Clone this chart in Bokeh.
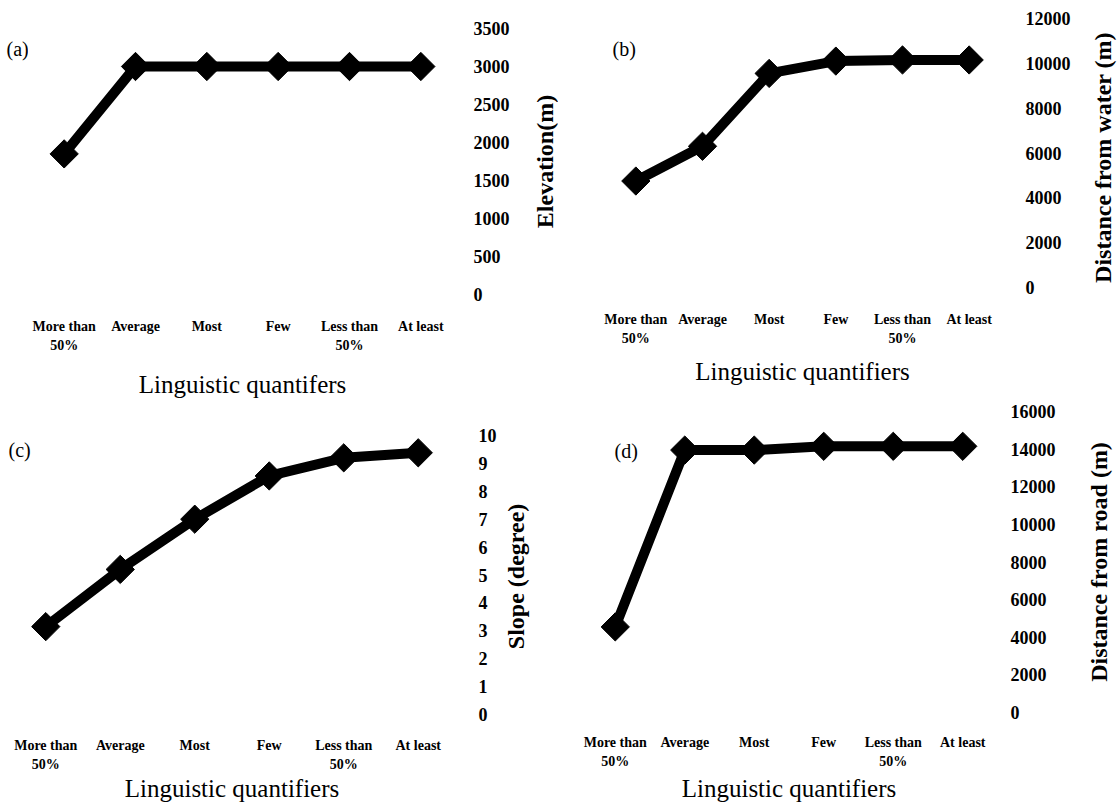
import math
from bokeh.plotting import figure
from bokeh.models import Range1d, FactorRange, Label, FixedTicker
from bokeh.layouts import row, column
from bokeh.embed import file_html
from bokeh.resources import INLINE

# ---------------- data ----------------
categories = ["More than\n50%", "Average", "Most", "Few", "Less than\n50%", "At least"]

elevation = [1850, 3000, 3000, 3000, 3000, 3000]
dist_water = [4750, 6300, 9550, 10100, 10150, 10150]
slope = [3.15, 5.2, 7.0, 8.55, 9.2, 9.38]
dist_road = [4550, 13950, 13950, 14150, 14150, 14150]

elev_ticks = [0, 500, 1000, 1500, 2000, 2500, 3000, 3500]
water_ticks = [0, 2000, 4000, 6000, 8000, 10000, 12000]
slope_ticks = [0, 1, 2, 3, 4, 5, 6, 7, 8, 9, 10]
road_ticks = [0, 2000, 4000, 6000, 8000, 10000, 12000, 14000, 16000]

SERIF = "Liberation Serif"


def style_fig(p):
    p.outline_line_color = None
    p.grid.visible = False
    p.background_fill_color = "white"
    p.border_fill_color = "white"


def panel(vals, ticks, xlabel, w, h, mb, tick_so, xtick_so, xlab_so):
    p = figure(width=w, height=h, x_range=FactorRange(*categories),
               y_range=Range1d(ticks[0], ticks[-1]),
               y_axis_location="right", output_backend="svg",
               toolbar_location=None, title=None,
               min_border_left=mb[0], min_border_right=mb[1],
               min_border_top=mb[2], min_border_bottom=mb[3])
    style_fig(p)
    for ax in (p.xaxis[0], p.yaxis[0]):
        ax.axis_line_color = None
        ax.major_tick_line_color = None
        ax.minor_tick_line_color = None
        ax.major_tick_out = 0
        ax.major_tick_in = 0

    xa = p.xaxis[0]
    xa.major_label_text_font = SERIF
    xa.major_label_text_font_style = "bold"
    xa.major_label_text_font_size = "14px"
    xa.major_label_text_line_height = 1.32
    xa.major_label_text_color = "black"
    xa.major_label_standoff = xtick_so
    xa.axis_label = xlabel
    xa.axis_label_text_font = SERIF
    xa.axis_label_text_font_style = "normal"
    xa.axis_label_text_font_size = "25px"
    xa.axis_label_text_color = "black"
    xa.axis_label_standoff = xlab_so

    ya = p.yaxis[0]
    ya.ticker = FixedTicker(ticks=ticks)
    ya.major_label_text_font = SERIF
    ya.major_label_text_font_style = "bold"
    ya.major_label_text_font_size = "18px"
    ya.major_label_text_color = "black"
    ya.major_label_standoff = tick_so

    p.line(x=categories, y=vals, line_width=10, line_color="black")
    p.scatter(x=categories, y=vals, marker="square", angle=math.pi / 4,
              size=20, fill_color="black", line_color="black")
    return p


def tag_label(p, tag, ytop, dx, dy):
    p.add_layout(Label(x=0, y=ytop, x_offset=dx, y_offset=dy, text=tag,
                       text_font=SERIF, text_font_size="20px", text_color="black",
                       text_baseline="middle", text_align="left"))


def strip(main, w, h, mb):
    s = figure(width=w, height=h, x_range=Range1d(0, w), y_range=main.y_range,
               output_backend="svg", toolbar_location=None, title=None,
               min_border_left=0, min_border_right=0,
               min_border_top=mb[2], min_border_bottom=mb[3],
               x_axis_location=None, y_axis_location=None)
    style_fig(s)
    return s


def ytitle(s, text, cx, yval):
    s.add_layout(Label(x=cx, y=yval, text=text, angle=math.pi / 2,
                       text_align="center", text_baseline="middle",
                       text_font=SERIF, text_font_style="bold",
                       text_font_size="24px", text_color="black"))


TOP_H = 402
BOT_H = 403

# ---- panel (a) ----
mb_a = (0, 74, 28, 108)
pa = panel(elevation, elev_ticks, "Linguistic quantifers", 502, TOP_H, mb_a, 17, 24, 15)
ta = strip(pa, 28, TOP_H, mb_a)
ta.add_layout(Label(x=6, y=3224, text="(a)", text_font=SERIF, text_font_size="20px",
                    text_color="black", text_baseline="middle", text_align="left"))
sa = strip(pa, 28, TOP_H, mb_a)
ytitle(sa, "Elevation(m)", 14, 1750)

# ---- panel (b) ----
mb_b = (44, 78, 18, 115)
pb = panel(dist_water, water_ticks, "Linguistic quantifiers", 522, TOP_H, mb_b, 23, 24, 9)
tag_label(pb, "(b)", 12000, 10, -30)
sb = strip(pb, 37, TOP_H, mb_b)
ytitle(sb, "Distance from water (m)", 22, 5800)

# ---- panel (c) ----
mb_c = (8, 45, 33, 87)
pc = panel(slope, slope_ticks, "Linguistic quantifiers", 500, BOT_H, mb_c, 23, 23, 0)
tag_label(pc, "(c)", 10, 0, -14)
sc = strip(pc, 58, BOT_H, mb_c)
ytitle(sc, "Slope (degree)", 15, 4.95)

# ---- panel (d) ----
mb_d = (22, 78, 9, 91)
pd = panel(dist_road, road_ticks, "Linguistic quantifiers", 517, BOT_H, mb_d, 13, 22, 3)
tag_label(pd, "(d)", 16000, 34, -39)
sd = strip(pd, 42, BOT_H, mb_d)
ytitle(sd, "Distance from road (m)", 23, 8000)

top = row(column(row(ta, pa, sa)), column(row(pb, sb)))
bottom = row(column(row(pc, sc)), column(row(pd, sd)))
layout = column(top, bottom)
open("out.html", "w").write(file_html(layout, INLINE))
